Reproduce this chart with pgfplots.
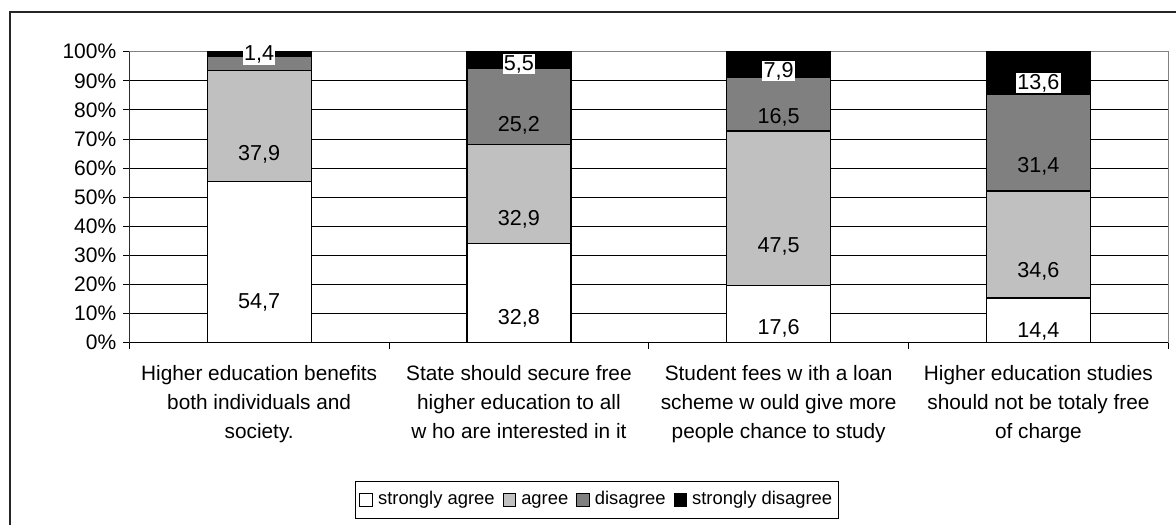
\documentclass[border=0pt]{standalone}
\usepackage{pgfplots}
\pgfplotsset{compat=1.18}
\usepackage{pgfplotstable}
\usepackage{fontspec}
\setmainfont{Liberation Sans}
\definecolor{agreeC}{HTML}{C0C0C0}
\definecolor{disC}{HTML}{808080}

% raw survey values; bars are drawn as share of the row total (100% stacked)
\pgfplotstableread{
x raw total lab
0.5 54.7 98.9 54,7
1.5 32.8 96.4 32,8
2.5 17.6 89.5 17,6
3.5 14.4 94.0 14,4
}\tabSA
\pgfplotstableread{
x raw total lab
0.5 37.9 98.9 37,9
1.5 32.9 96.4 32,9
2.5 47.5 89.5 47,5
3.5 34.6 94.0 34,6
}\tabA
\pgfplotstableread{
x raw total lab
0.5 4.9 98.9 \relax
1.5 25.2 96.4 25,2
2.5 16.5 89.5 16,5
3.5 31.4 94.0 31,4
}\tabD
\pgfplotstableread{
x raw total lab
0.5 1.4 98.9 1,4
1.5 5.5 96.4 5,5
2.5 7.9 89.5 7,9
3.5 13.6 94.0 13,6
}\tabSD

\pgfplotsset{
  sqlegend/.style={legend image code/.code={\draw[##1,draw=black,line width=0.5pt] (0pt,-3.1pt) rectangle (6.2pt,3.1pt);}},
}

\begin{document}
\begin{tikzpicture}
\useasboundingbox (0,0) rectangle (588pt,262pt);
\draw[line width=0.85pt, black!85] (5pt,-10pt) rectangle (600pt,256.15pt);
\begin{axis}[
  at={(64.65pt,90.65pt)}, anchor=south west,
  scale only axis, width=519.5pt, height=145.5pt,
  ybar stacked, bar width=52pt,
  xmin=0, xmax=4, ymin=0, ymax=100.02,
  xtick={0,1,2,3,4}, xticklabels={},
  extra x ticks={0.5,1.5,2.5,3.5},
  extra x tick labels={{Higher education benefits\\both individuals and\\society.},
    {State should secure free\\higher education to all\\w ho are interested in it},
    {Student fees w ith a loan\\scheme w ould give more\\people chance to study},
    {Higher education studies\\should not be totaly free\\of charge}},
  extra x tick style={major tick length=0pt, grid=none,
    tick label style={align=center, font=\fontsize{10.4pt}{14.5pt}\selectfont, yshift=-8pt}},
  ytick={0,10,...,100},
  yticklabel={\pgfmathprintnumber{\tick}\%},
  /pgf/number format/assume math mode=true,
  yticklabel style={font=\fontsize{10.5pt}{12pt}\selectfont},
  ymajorgrids, grid style={black, line width=0.5pt},
  tick align=outside, major tick length=3pt, tick style={black, line width=0.5pt},
  tick pos=left,
  axis line style={draw=disC, line width=0.6pt},
  visualization depends on={\thisrow{raw}/\thisrow{total}*100 \as \segh},
  nodes near coords,
  point meta=explicit symbolic,
  every node near coord/.append style={anchor=center, inner sep=0.6pt,
    font=\fontsize{10.8pt}{12pt}\selectfont, yshift={-0.36375*\segh}},
  legend columns=4,
  legend style={at={(0.2172,-0.5405)}, anchor=west, draw=black, line width=0.5pt,
    font=\fontsize{9.2pt}{11pt}\selectfont, inner xsep=2pt, inner ysep=3.8pt,
    /tikz/every even column/.append style={column sep=2.8pt},
    /tikz/every odd column/.append style={column sep=1.4pt},
    nodes={inner sep=1.2pt, text height=6.8pt, text depth=2pt}},
]
\addplot[fill=white, draw=black, line width=0.65pt, sqlegend]
  table[x=x, y expr=\thisrow{raw}/\thisrow{total}*100, meta=lab]{\tabSA};
\addplot[fill=agreeC, draw=black, line width=0.65pt, sqlegend]
  table[x=x, y expr=\thisrow{raw}/\thisrow{total}*100, meta=lab]{\tabA};
\addplot[fill=disC, draw=black, line width=0.65pt, sqlegend]
  table[x=x, y expr=\thisrow{raw}/\thisrow{total}*100, meta=lab]{\tabD};
\addplot[fill=black, draw=black, line width=0.65pt, sqlegend,
  every node near coord/.append style={fill=white, text=black}]
  table[x=x, y expr=\thisrow{raw}/\thisrow{total}*100, meta=lab]{\tabSD};
\legend{strongly agree, agree, disagree, strongly disagree}
\draw[black, line width=0.6pt] (rel axis cs:0,1) -- (rel axis cs:0,0) -- (rel axis cs:1,0);
\end{axis}
\end{tikzpicture}
\end{document}
